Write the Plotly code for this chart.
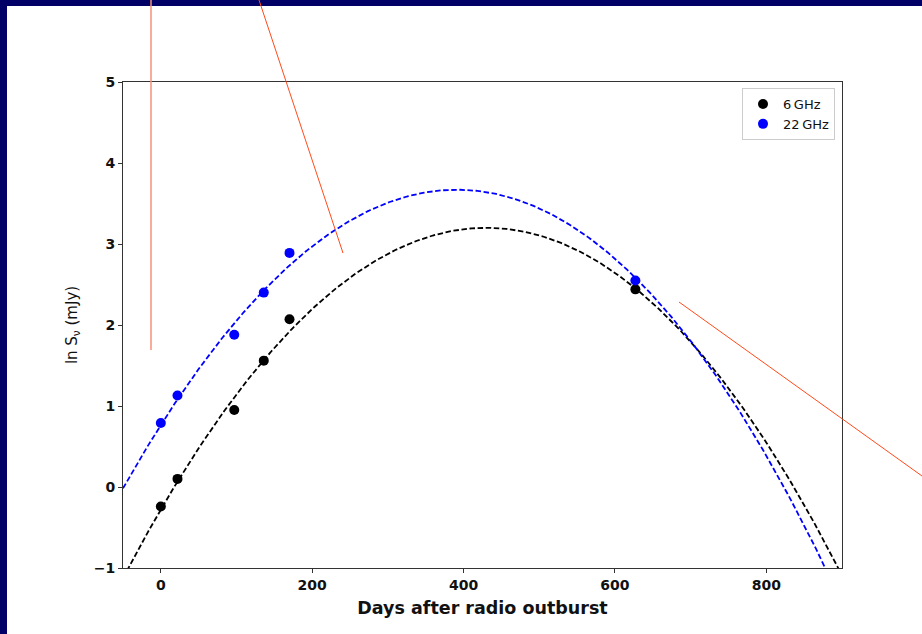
import numpy as np
import plotly.graph_objects as go

# ---- data ----
days = [0, 22, 97, 136, 170, 627]
ln_s_6ghz = [-0.24, 0.10, 0.95, 1.56, 2.07, 2.44]
ln_s_22ghz = [0.79, 1.13, 1.88, 2.40, 2.89, 2.55]

# fitted model curves: y = peak + a*v^2 + c*v^3, v = (t - t_peak)/100
fit_6ghz = {"t_peak": 430.0, "peak": 3.20, "a": -0.19103, "c": -0.000694}
fit_22ghz = {"t_peak": 391.0, "peak": 3.67, "a": -0.19304, "c": -0.000789}

x_ticks = [0, 200, 400, 600, 800]
y_ticks = [-1, 0, 1, 2, 3, 4, 5]
x_range = [-50, 900]
y_range = [-1, 5]

t_model = np.linspace(x_range[0], x_range[1], 500)


def model(fit, t):
    v = (t - fit["t_peak"]) / 100.0
    return fit["peak"] + fit["a"] * v ** 2 + fit["c"] * v ** 3


W, H = 922, 634
L, R, T, B = 123, 80, 82, 66
PW, PH = W - L - R, H - T - B


def px(x):
    return (x - L) / PW


def py(y):
    return (H - B - y) / PH


fig = go.Figure()

fig.add_trace(go.Scatter(x=t_model, y=model(fit_6ghz, t_model), mode="lines",
                         line=dict(color="black", width=1.8, dash="5.5px,2.6px"),
                         showlegend=False, hoverinfo="skip"))
fig.add_trace(go.Scatter(x=t_model, y=model(fit_22ghz, t_model), mode="lines",
                         line=dict(color="#0000ff", width=1.8, dash="5.5px,2.6px"),
                         showlegend=False, hoverinfo="skip"))
fig.add_trace(go.Scatter(x=days, y=ln_s_6ghz, mode="markers", name="6\u2009GHz",
                         marker=dict(color="black", size=10)))
fig.add_trace(go.Scatter(x=days, y=ln_s_22ghz, mode="markers", name="22\u2009GHz",
                         marker=dict(color="#0000ff", size=10)))

shapes = []
navy = "#000066"
# navy frame (top and left strips)
shapes.append(dict(type="rect", xref="paper", yref="paper", x0=px(0), x1=px(W),
                   y0=py(6), y1=py(0), fillcolor=navy, line=dict(width=0), layer="above"))
shapes.append(dict(type="rect", xref="paper", yref="paper", x0=px(0), x1=px(7),
                   y0=py(H), y1=py(0), fillcolor=navy, line=dict(width=0), layer="above"))
# red pointer lines
shapes.append(dict(type="line", xref="paper", yref="paper", x0=px(151), y0=py(0),
                   x1=px(151), y1=py(350), line=dict(color="#f7907a", width=1.5), layer="above"))
shapes.append(dict(type="line", xref="paper", yref="paper", x0=px(259), y0=py(0),
                   x1=px(343), y1=py(253), line=dict(color="#ff4a1a", width=1), layer="above"))
shapes.append(dict(type="line", xref="paper", yref="paper", x0=px(679), y0=py(302),
                   x1=px(922), y1=py(476), line=dict(color="#ff4a1a", width=1), layer="above"))

tickfont = dict(family="DejaVu Sans", size=14, color="#111")
axis_common = dict(showgrid=False, zeroline=False, showline=True, mirror=True,
                   linecolor="#333", linewidth=1, ticks="outside", ticklen=4,
                   tickcolor="#333", tickwidth=1)

fig.update_layout(
    width=W, height=H,
    margin=dict(l=L, r=R, t=T, b=B),
    paper_bgcolor="white", plot_bgcolor="white",
    font=dict(family="DejaVu Sans", color="#111"),
    xaxis=dict(range=x_range, tickvals=x_ticks,
               ticktext=[f"<b>{v}</b>" for v in x_ticks], tickfont=tickfont,
               title=dict(text="<b>Days after radio outburst</b>",
                          font=dict(family="DejaVu Sans", size=17.5, color="#111"), standoff=9),
               **axis_common),
    yaxis=dict(range=y_range, tickvals=y_ticks,
               ticktext=[f"<b>{'\u2212' + str(-v) if v < 0 else v}</b>" for v in y_ticks],
               tickfont=tickfont,
               title=dict(text="ln S<sub>\u03bd</sub> (mJy)",
                          font=dict(family="DejaVu Sans", size=15, color="#111"), standoff=12),
               **axis_common),
    legend=dict(x=px(835), y=py(88), xanchor="right", yanchor="top",
                bgcolor="white", bordercolor="#cccccc", borderwidth=1,
                font=dict(family="DejaVu Sans", size=13, color="#111"),
                itemwidth=30, tracegroupgap=0),
    shapes=shapes,
)

fig.write_html("out.html")
